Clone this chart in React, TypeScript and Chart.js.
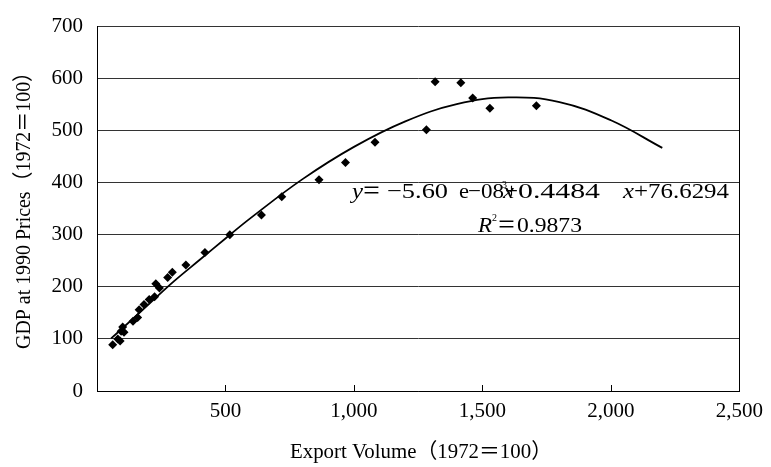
import React, { useEffect, useRef } from "react";
import { Chart, registerables } from "chart.js";

Chart.register(...registerables);

// Observed data points (export volume, GDP)
const exportVolume = [
  61, 81, 90, 94, 100, 105, 140, 158, 164, 183, 203, 224, 229, 243, 275, 293, 346, 420,
  517, 640, 719, 864, 967, 1082, 1282, 1316, 1416, 1462, 1529, 1710,
];
const gdpValues = [
  89, 100, 96, 115, 123, 113, 134, 141, 156, 166, 176, 181, 206, 198, 218, 228, 242, 266,
  300, 338, 373, 406, 439, 478, 502, 594, 592, 563, 543, 548,
];

// Trend curve
const curveX = [55, 100, 200, 300, 400, 500, 600, 800, 1000, 1200, 1400, 1600, 1800, 2000, 2200];
const curveY = [101, 121, 166, 211, 252, 293, 333, 407, 469, 518, 551, 564, 555, 520, 467];

const xTicks = [500, 1000, 1500, 2000, 2500];
const yTicks = [0, 100, 200, 300, 400, 500, 600, 700];

const xTitle = "Export Volume（1972＝100）";
const yTitle = "GDP at 1990 Prices（1972＝100）";

const FONT = "'Liberation Serif', 'Times New Roman', 'Noto Sans CJK SC', serif";

function fitText(ctx: any, text: string, x0: number, x1: number, y: number, font: string) {
  ctx.font = font;
  const w = ctx.measureText(text).width;
  const sx = (x1 - x0) / w;
  ctx.save();
  ctx.translate(x0, y);
  ctx.scale(sx, 1);
  ctx.fillText(text, 0, 0);
  ctx.restore();
}

const decorPlugin = {
  id: "decor",
  afterDraw(chart: any) {
    const { ctx, chartArea, scales } = chart;
    const xs = scales.x;
    ctx.save();
    // right border
    ctx.strokeStyle = "#000";
    ctx.lineWidth = 1;
    ctx.beginPath();
    ctx.moveTo(Math.round(chartArea.right) + 0.5, chartArea.top);
    ctx.lineTo(Math.round(chartArea.right) + 0.5, chartArea.bottom);
    ctx.stroke();
    // inward x ticks
    xTicks.forEach((t) => {
      if (t >= 2500) return;
      const px = Math.round(xs.getPixelForValue(t)) + 0.5;
      ctx.beginPath();
      ctx.moveTo(px, chartArea.bottom);
      ctx.lineTo(px, chartArea.bottom - 6);
      ctx.stroke();
    });

    ctx.fillStyle = "#000";
    // axis titles
    ctx.textAlign = "left";
    ctx.textBaseline = "middle";
    fitText(ctx, xTitle, 290, 552, 452, `21px ${FONT}`);
    ctx.save();
    ctx.translate(24, 206);
    ctx.rotate(-Math.PI / 2);
    fitText(ctx, yTitle, -143, 144, 0, `21px ${FONT}`);
    ctx.restore();

    // equation
    ctx.textBaseline = "alphabetic";
    const N = `22px ${FONT}`;
    const I = `italic 22px ${FONT}`;
    const b1 = 198;
    fitText(ctx, "y", 352, 363, b1, I);
    fitText(ctx, "＝", 362, 381, b1, N);
    fitText(ctx, "−5.60", 387, 448, b1, N);
    fitText(ctx, "e", 459, 469, b1, N);
    fitText(ctx, "−08", 468, 504, b1, N);
    fitText(ctx, "3", 502, 507, b1 - 10, `11px ${FONT}`);
    fitText(ctx, "x", 503, 514, b1, I);
    fitText(ctx, "+", 505, 518, b1, N);
    fitText(ctx, "0.4484", 518, 600, b1, N);
    fitText(ctx, "x", 623, 634, b1, I);
    fitText(ctx, "+76.6294", 634, 729, b1, N);

    const b2 = 232;
    fitText(ctx, "R", 478, 492, b2, I);
    fitText(ctx, "2", 492, 497, b2 - 11, `11px ${FONT}`);
    fitText(ctx, "＝", 497, 516, b2, N);
    fitText(ctx, "0.9873", 517, 582, b2, N);
    ctx.restore();
  },
};

export default function App() {
  const ref = useRef<HTMLCanvasElement | null>(null);

  useEffect(() => {
    if (!ref.current) return;
    const points = exportVolume.map((x, i) => ({ x, y: gdpValues[i] }));
    const curve = curveX.map((x, i) => ({ x, y: curveY[i] }));
    const chart = new Chart(ref.current, {
      type: "scatter",
      data: {
        datasets: [
          {
            label: "data",
            data: points,
            pointStyle: "rectRot",
            pointRadius: 4.5,
            backgroundColor: "#000",
            borderColor: "#000",
            borderWidth: 0,
            showLine: false,
            order: 1,
          },
          {
            label: "fit",
            data: curve,
            showLine: true,
            pointRadius: 0,
            borderColor: "#000",
            borderWidth: 1.8,
            tension: 0.4,
            fill: false,
            order: 0,
          },
        ],
      },
      options: {
        animation: false,
        responsive: false,
        devicePixelRatio: 1,
        layout: { padding: { left: 0, top: 23, right: 28, bottom: 0 } },
        plugins: { legend: { display: false }, tooltip: { enabled: false } },
        scales: {
          x: {
            type: "linear",
            min: 0,
            max: 2500,
            afterBuildTicks: (s: any) => {
              s.ticks = [0, ...xTicks].map((v) => ({ value: v }));
            },
            ticks: {
              callback: (v: any) => (v === 0 ? "" : Number(v).toLocaleString("en-US")),
              font: { family: FONT, size: 21 },
              color: "#000",
              padding: 8,
              maxRotation: 0,
              autoSkip: false,
            },
            grid: { display: false, drawTicks: false },
            border: { display: true, color: "#000", width: 1 },
            afterFit: (s: any) => {
              s.height = 76;
            },
          },
          y: {
            min: 0,
            max: 700,
            afterBuildTicks: (s: any) => {
              s.ticks = yTicks.map((v) => ({ value: v }));
            },
            ticks: {
              font: { family: FONT, size: 21 },
              color: "#000",
              padding: 14,
            },
            grid: { color: "#333", lineWidth: 1, drawTicks: false },
            border: { display: true, color: "#000", width: 1 },
            afterFit: (s: any) => {
              s.width = 97;
            },
          },
        },
      },
      plugins: [decorPlugin],
    });
    return () => chart.destroy();
  }, []);

  return (
    <div style={{ position: "absolute", left: 0, top: 0, width: 771, height: 467, background: "#fff" }}>
      <canvas ref={ref} width={771} height={467} />
    </div>
  );
}
